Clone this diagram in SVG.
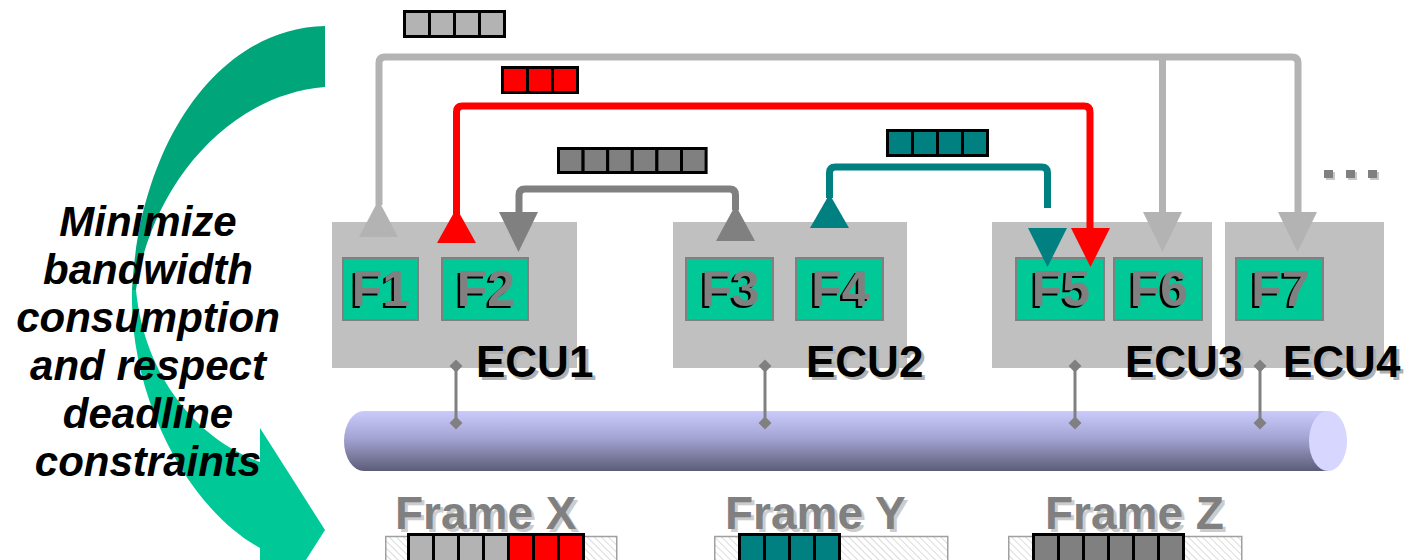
<svg xmlns="http://www.w3.org/2000/svg" width="1412" height="560" viewBox="0 0 1412 560">
  <defs>
    <linearGradient id="busGrad" x1="0" y1="0" x2="0" y2="1">
      <stop offset="0" stop-color="#cacafc"/>
      <stop offset="0.45" stop-color="#a4a4d4"/>
      <stop offset="1" stop-color="#5c5c78"/>
    </linearGradient>
    <pattern id="hatch" patternUnits="userSpaceOnUse" width="5" height="5" patternTransform="rotate(-45)">
      <rect width="5" height="5" fill="#ffffff"/>
      <line x1="0" y1="0" x2="0" y2="5" stroke="#c4c4c4" stroke-width="1.2"/>
    </pattern>
    <path id="diamond" d="M0,-6.5 L6.5,0 L0,6.5 L-6.5,0 Z"/>
  </defs>
  <style>
    .ecu { fill: #c0c0c0; }
    .fbox { fill: #00c896; stroke: #808080; stroke-width: 2; }
    .ftxt { font-family: "Liberation Sans", Arial, sans-serif; font-weight: bold; font-size: 50px; text-anchor: middle; }
    .ecutxt { font-family: "Liberation Sans", Arial, sans-serif; font-weight: bold; font-size: 44px; }
    .frametxt { font-family: "Liberation Sans", Arial, sans-serif; font-weight: bold; font-size: 46px; }
    .goal { font-family: "Liberation Sans", Arial, sans-serif; font-weight: bold; font-style: italic; font-size: 42px; text-anchor: middle; fill: #000000; }
    .cell { stroke: #000000; stroke-width: 3; }
    .lg { fill: #b3b3b3; }
    .dg { fill: #808080; }
    .rd { fill: #ff0000; }
    .tl { fill: #008080; }
    .wire { fill: none; stroke-width: 7; }
    .tap { stroke: #808080; stroke-width: 3; fill: none; }
    .hatchbar { fill: url(#hatch); stroke: #a0a0a0; stroke-width: 1.5; }
    .sh-dark { fill: #000000; }
    .sh-gray { fill: #b0b0b0; }
    .sh-light { fill: #cccccc; }
    .gray { fill: #808080; }
    .black { fill: #000000; }
  </style>

  <rect width="1412" height="560" fill="#ffffff"/>

  <!-- curved optimisation arrow on the left -->
  <g id="curved-arrow">
    <path fill="#00a67a" d="M325,26 C220,28 140,140 132,290 L136,290 C150,190 225,95 325,87 Z"/>
    <path fill="#00c896" d="M132,290 C129,400 190,510 260,548 L260,632 L325,530 L260,428 L260,462 C200,440 145,380 136,290 Z"/>
  </g>

  <g id="goal-text">
    <text class="goal" x="148" y="236">Minimize</text>
    <text class="goal" x="148" y="284">bandwidth</text>
    <text class="goal" x="148" y="332">consumption</text>
    <text class="goal" x="148" y="380">and respect</text>
    <text class="goal" x="148" y="428">deadline</text>
    <text class="goal" x="148" y="476">constraints</text>
  </g>

  <!-- ECU boxes -->
  <g id="ecu1">
    <rect class="ecu" x="332" y="222" width="245" height="146"/>
  </g>
  <g id="ecu2">
    <rect class="ecu" x="673" y="222" width="234" height="146"/>
  </g>
  <g id="ecu3">
    <rect class="ecu" x="992" y="222" width="220" height="146"/>
  </g>
  <g id="ecu4">
    <rect class="ecu" x="1225" y="222" width="159" height="146"/>
  </g>

  <!-- functions (grey label over a black offset copy) -->
  <g id="f1">
    <rect class="fbox" x="343" y="258" width="75" height="62"/>
    <text class="ftxt sh-dark" x="378.5" y="308">F1</text>
    <text class="ftxt gray" x="381" y="305.5">F1</text>
  </g>
  <g id="f2">
    <rect class="fbox" x="442" y="258" width="86" height="62"/>
    <text class="ftxt sh-dark" x="483.5" y="308">F2</text>
    <text class="ftxt gray" x="486" y="305.5">F2</text>
  </g>
  <g id="f3">
    <rect class="fbox" x="686" y="258" width="87" height="62"/>
    <text class="ftxt sh-dark" x="728" y="308">F3</text>
    <text class="ftxt gray" x="730.5" y="305.5">F3</text>
  </g>
  <g id="f4">
    <rect class="fbox" x="796" y="258" width="87" height="62"/>
    <text class="ftxt sh-dark" x="838" y="308">F4</text>
    <text class="ftxt gray" x="840.5" y="305.5">F4</text>
  </g>
  <g id="f5">
    <rect class="fbox" x="1016" y="258" width="88" height="62"/>
    <text class="ftxt sh-dark" x="1058.5" y="308">F5</text>
    <text class="ftxt gray" x="1061" y="305.5">F5</text>
  </g>
  <g id="f6">
    <rect class="fbox" x="1114" y="258" width="88" height="62"/>
    <text class="ftxt sh-dark" x="1156.5" y="308">F6</text>
    <text class="ftxt gray" x="1159" y="305.5">F6</text>
  </g>
  <g id="f7">
    <rect class="fbox" x="1236" y="258" width="87" height="62"/>
    <text class="ftxt sh-dark" x="1278" y="308">F7</text>
    <text class="ftxt gray" x="1280.5" y="305.5">F7</text>
  </g>

  <!-- ECU labels -->
  <g id="ecu-labels">
    <text class="ecutxt sh-gray" x="479" y="380">ECU1</text>
    <text class="ecutxt black" x="476" y="377">ECU1</text>
    <text class="ecutxt sh-gray" x="809" y="380">ECU2</text>
    <text class="ecutxt black" x="806" y="377">ECU2</text>
    <text class="ecutxt sh-gray" x="1128" y="380">ECU3</text>
    <text class="ecutxt black" x="1125" y="377">ECU3</text>
    <text class="ecutxt sh-gray" x="1286" y="380">ECU4</text>
    <text class="ecutxt black" x="1283" y="377">ECU4</text>
  </g>

  <!-- bus -->
  <g id="bus">
    <path d="M1328,411 H364 A20,30 0 0 0 364,471 H1328 Z" fill="url(#busGrad)"/>
    <ellipse cx="1328" cy="441" rx="19" ry="30" fill="#d6d6ff"/>
  </g>

  <!-- signal and bus connectors -->
  <g id="connectors">
    <!-- F1 to F6 / F7 -->
    <path class="wire" stroke="#b3b3b3" d="M379,205 V63 Q379,57 385,57 H1292 Q1298,57 1298,63 V214"/>
    <path class="wire" stroke="#b3b3b3" d="M1162.5,57 V214"/>
    <polygon class="lg" points="359,237 398,237 378.5,200"/>
    <polygon class="lg" points="1143,212 1182,212 1162.5,252"/>
    <polygon class="lg" points="1278,212 1317,212 1297.5,252"/>

    <!-- F2 to F5 -->
    <path class="wire" stroke="#ff0000" d="M456.5,214 V112 Q456.5,106 462.5,106 H1084 Q1090,106 1090,112 V230"/>
    <polygon class="rd" points="437,243 476,243 456.5,208"/>
    <polygon class="rd" points="1071,228 1110,228 1090.5,267"/>

    <!-- F3 to F2 -->
    <path class="wire" stroke="#808080" d="M735.5,210 V195 Q735.5,189 729.5,189 H525 Q519,189 519,195 V214"/>
    <polygon class="dg" points="716,241 755,241 735.5,205"/>
    <polygon class="dg" points="499,212 538,212 518.5,252"/>

    <!-- F4 to F5 -->
    <path class="wire" stroke="#008080" d="M829.5,198 V173 Q829.5,167 835.5,167 H1041.5 Q1047.5,167 1047.5,173 V208"/>
    <polygon class="tl" points="810,228 849,228 829.5,194"/>
    <polygon class="tl" points="1028,228 1067,228 1047.5,267"/>

    <!-- ECU bus taps -->
    <g fill="#808080">
      <line class="tap" x1="456" y1="366" x2="456" y2="423"/>
      <use href="#diamond" x="456" y="366"/>
      <use href="#diamond" x="456" y="423"/>
      <line class="tap" x1="765" y1="366" x2="765" y2="423"/>
      <use href="#diamond" x="765" y="366"/>
      <use href="#diamond" x="765" y="423"/>
      <line class="tap" x1="1075" y1="366" x2="1075" y2="423"/>
      <use href="#diamond" x="1075" y="366"/>
      <use href="#diamond" x="1075" y="423"/>
      <line class="tap" x1="1260" y1="366" x2="1260" y2="423"/>
      <use href="#diamond" x="1260" y="366"/>
      <use href="#diamond" x="1260" y="423"/>
    </g>
  </g>

  <!-- signals on the wires -->
  <g id="msg-f1">
    <rect class="cell lg" x="404.5" y="11.5" width="25" height="25"/>
    <rect class="cell lg" x="429.5" y="11.5" width="25" height="25"/>
    <rect class="cell lg" x="454.5" y="11.5" width="25" height="25"/>
    <rect class="cell lg" x="479.5" y="11.5" width="25" height="25"/>
  </g>
  <g id="msg-f2">
    <rect class="cell rd" x="502.5" y="67.5" width="25" height="25"/>
    <rect class="cell rd" x="527.5" y="67.5" width="25" height="25"/>
    <rect class="cell rd" x="552.5" y="67.5" width="25" height="25"/>
  </g>
  <g id="msg-f3">
    <rect class="cell dg" x="558.5" y="148.5" width="24.6" height="24"/>
    <rect class="cell dg" x="583.1" y="148.5" width="24.6" height="24"/>
    <rect class="cell dg" x="607.7" y="148.5" width="24.6" height="24"/>
    <rect class="cell dg" x="632.3" y="148.5" width="24.6" height="24"/>
    <rect class="cell dg" x="656.9" y="148.5" width="24.6" height="24"/>
    <rect class="cell dg" x="681.5" y="148.5" width="24.6" height="24"/>
  </g>
  <g id="msg-f4">
    <rect class="cell tl" x="887.5" y="130.5" width="25" height="25"/>
    <rect class="cell tl" x="912.5" y="130.5" width="25" height="25"/>
    <rect class="cell tl" x="937.5" y="130.5" width="25" height="25"/>
    <rect class="cell tl" x="962.5" y="130.5" width="25" height="25"/>
  </g>

  <!-- more ECUs -->
  <g id="ellipsis">
    <rect x="1326" y="172" width="9" height="8" fill="#c8c8c8"/>
    <rect x="1348" y="172" width="9" height="8" fill="#c8c8c8"/>
    <rect x="1370" y="172" width="9" height="8" fill="#c8c8c8"/>
    <rect x="1324" y="170" width="9" height="8" fill="#808080"/>
    <rect x="1346" y="170" width="9" height="8" fill="#808080"/>
    <rect x="1368" y="170" width="9" height="8" fill="#808080"/>
  </g>

  <!-- frames -->
  <g id="frame-x">
    <text class="frametxt sh-light" x="398" y="532">Frame X</text>
    <text class="frametxt gray" x="395" y="529">Frame X</text>
    <rect class="hatchbar" x="385.75" y="536.5" width="231" height="26"/>
    <rect class="cell lg" x="408.5" y="534.5" width="25" height="30"/>
    <rect class="cell lg" x="433.5" y="534.5" width="25" height="30"/>
    <rect class="cell lg" x="458.5" y="534.5" width="25" height="30"/>
    <rect class="cell lg" x="483.5" y="534.5" width="25" height="30"/>
    <rect class="cell rd" x="508.5" y="534.5" width="25" height="30"/>
    <rect class="cell rd" x="533.5" y="534.5" width="25" height="30"/>
    <rect class="cell rd" x="558.5" y="534.5" width="25" height="30"/>
  </g>
  <g id="frame-y">
    <text class="frametxt sh-light" x="728" y="532">Frame Y</text>
    <text class="frametxt gray" x="725" y="529">Frame Y</text>
    <rect class="hatchbar" x="714.75" y="536.5" width="233" height="26"/>
    <rect class="cell tl" x="739.5" y="534.5" width="25" height="30"/>
    <rect class="cell tl" x="764.5" y="534.5" width="25" height="30"/>
    <rect class="cell tl" x="789.5" y="534.5" width="25" height="30"/>
    <rect class="cell tl" x="814.5" y="534.5" width="25" height="30"/>
  </g>
  <g id="frame-z">
    <text class="frametxt sh-light" x="1048" y="532">Frame Z</text>
    <text class="frametxt gray" x="1045" y="529">Frame Z</text>
    <rect class="hatchbar" x="1008.75" y="536.5" width="233" height="26"/>
    <rect class="cell dg" x="1033.5" y="534.5" width="25" height="30"/>
    <rect class="cell dg" x="1058.5" y="534.5" width="25" height="30"/>
    <rect class="cell dg" x="1083.5" y="534.5" width="25" height="30"/>
    <rect class="cell dg" x="1108.5" y="534.5" width="25" height="30"/>
    <rect class="cell dg" x="1133.5" y="534.5" width="25" height="30"/>
    <rect class="cell dg" x="1158.5" y="534.5" width="25" height="30"/>
  </g>
</svg>
